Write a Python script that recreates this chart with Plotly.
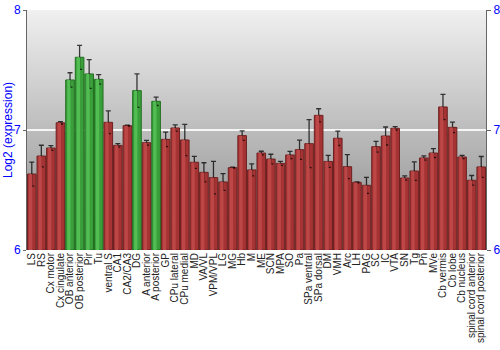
import plotly.graph_objects as go

categories = ["LS", "RS", "Cx motor", "Cx cingulate", "OB anterior", "OB posterior", "Pir", "Tu",
              "ventral S", "CA1", "CA2/CA3", "DG", "A anterior", "A posterior", "GP",
              "CPu lateral", "CPu medial", "MD", "VA/VL", "VPM/VPL", "LG", "MG", "Hb", "M",
              "ME", "SCN", "MPA", "SO", "Pa", "SPa ventral", "SPa dorsal", "DM",
              "VMH", "Arc", "LH", "PAG", "SC", "IC", "VTA", "SN", "Tg", "Pn", "MVe",
              "Cb vermis", "Cb lobe", "Cb nucleus", "spinal cord anterior", "spinal cord posterior"]

values = [6.633, 6.783, 6.85, 7.06, 7.417, 7.606, 7.467, 7.422,
          7.064, 6.872, 7.036, 7.328, 6.894, 7.239, 6.922,
          7.017, 6.917, 6.731, 6.647, 6.603, 6.567, 6.686, 6.953, 6.667,
          6.808, 6.758, 6.722, 6.792, 6.836, 6.886, 7.122, 6.738,
          6.931, 6.694, 6.564, 6.539, 6.861, 6.95, 7.014, 6.6, 6.658, 6.767, 6.808,
          7.192, 7.022, 6.775, 6.581, 6.692]

errors = [0.1, 0.09, 0.02, 0.01, 0.06, 0.1, 0.12, 0.04,
          0.095, 0.015, 0.004, 0.14, 0.02, 0.035, 0.06,
          0.026, 0.13, 0.05, 0.08, 0.135, 0.07, 0.004, 0.04, 0.05,
          0.015, 0.04, 0.017, 0.03, 0.08, 0.2, 0.055, 0.05,
          0.06, 0.1, 0.004, 0.067, 0.045, 0.075, 0.014, 0.018, 0.077, 0.018, 0.037,
          0.105, 0.044, 0.014, 0.04, 0.087]

highlighted = ["OB anterior", "OB posterior", "Pir", "Tu", "DG", "A posterior"]

y_ticks = [6, 7, 8]

base_col = ["#3a9e3a" if c in highlighted else "#a53333" for c in categories]
edge_col = ["#1f6f1f" if c in highlighted else "#6e2020" for c in categories]
hi_col = ["#52bd52" if c in highlighted else "#bd4747" for c in categories]

fig = go.Figure()

fig.add_trace(go.Bar(
    x=categories, y=[v - 6 for v in values], base=6,
    width=0.9,
    marker=dict(color=base_col, line=dict(color=edge_col, width=1)),
    error_y=dict(type="data", array=errors, color="rgba(0,0,0,0.75)", thickness=1.3, width=2.5),
    hoverinfo="x+y", showlegend=False,
))
fig.add_trace(go.Bar(
    x=categories, y=[v - 6 for v in values], base=6,
    width=0.35, offset=-0.3,
    marker=dict(color=hi_col, line=dict(width=0)),
    hoverinfo="skip", showlegend=False,
))
fig.add_trace(go.Scatter(
    x=categories, y=values, yaxis="y2", mode="markers",
    marker=dict(opacity=0), hoverinfo="skip", showlegend=False,
))

# vertical gradient background
n = 120
top = (240, 240, 240)
bot = (136, 136, 136)
shapes = []
for i in range(n):
    t = (i + 0.5) / n
    c = tuple(int(round(top[k] + (bot[k] - top[k]) * t)) for k in range(3))
    y1 = 8 - 2 * i / n
    y0 = max(6, 8 - 2 * (i + 1.6) / n)
    shapes.append(dict(type="rect", xref="paper", yref="y", x0=0, x1=1, y0=y0, y1=y1,
                       fillcolor="rgb(%d,%d,%d)" % c, line=dict(width=0), layer="below"))

font_family = "Liberation Sans, Arial, sans-serif"

fig.update_layout(
    width=500, height=350,
    margin=dict(l=27, r=14, t=10, b=100, autoexpand=False),
    paper_bgcolor="white", plot_bgcolor="#bcbcbc",
    barmode="overlay", bargap=0.1,
    shapes=shapes,
    font=dict(family=font_family),
    xaxis=dict(
        tickmode="array", tickvals=categories, ticktext=categories,
        tickangle=-90, tickfont=dict(size=10, color="#222", family=font_family),
        showgrid=False, showline=False, ticks="", ticklen=0, automargin=False,
        range=[-0.5, len(categories) - 0.5],
    ),
    yaxis=dict(
        range=[6, 8], tickvals=y_ticks, ticktext=[str(v) for v in y_ticks],
        tickfont=dict(size=12, color="blue", family=font_family),
        showgrid=True, gridcolor="rgba(255,255,255,0.85)", gridwidth=2,
        showline=True, linecolor="#666", linewidth=1, mirror=True,
        ticks="outside", ticklen=3, tickcolor="#666", zeroline=False, automargin=False,
    ),
    yaxis2=dict(
        range=[6, 8], tickvals=y_ticks, ticktext=[str(v) for v in y_ticks],
        overlaying="y", side="right",
        tickfont=dict(size=12, color="blue", family=font_family),
        showgrid=False, showline=True, linecolor="#666", linewidth=1,
        ticks="outside", ticklen=4, tickcolor="#666", zeroline=False, automargin=False,
    ),
    annotations=[dict(
        text="Log2 (expression)", xref="paper", yref="paper", x=0, y=0.5,
        xanchor="center", yanchor="middle", xshift=-19, textangle=-90, showarrow=False,
        font=dict(size=12, color="blue", family=font_family),
    )],
)

fig.write_html("out.html")
